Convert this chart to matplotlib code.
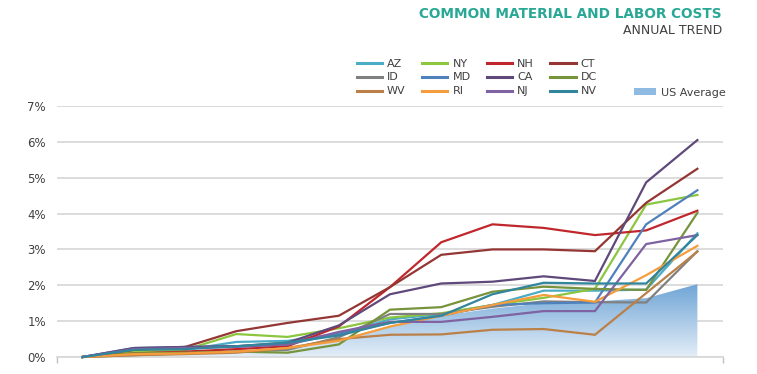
import numpy as np
import matplotlib
matplotlib.use('Agg')
import matplotlib.pyplot as plt
from matplotlib.lines import Line2D
from matplotlib.patches import Patch

# periods (unlabelled on the chart)
periods = list(range(13))

AZ = [0.0, 0.15, 0.2, 0.42, 0.45, 0.65, 1.05, 1.2, 1.45, 1.85, 1.85, 1.88, 3.45]
NY = [0.0, 0.15, 0.2, 0.64, 0.56, 0.8, 1.1, 1.22, 1.45, 1.65, 1.9, 4.25, 4.52]
NH = [0.0, 0.1, 0.15, 0.22, 0.3, 0.85, 1.95, 3.2, 3.7, 3.6, 3.4, 3.53, 4.08]
CT = [0.0, 0.2, 0.28, 0.72, 0.95, 1.15, 1.95, 2.85, 3.0, 3.0, 2.95, 4.3, 5.25]
ID = [0.0, 0.05, 0.1, 0.15, 0.2, 0.55, 1.2, 1.2, 1.4, 1.55, 1.53, 1.52, 2.95]
MD = [0.0, 0.25, 0.28, 0.3, 0.35, 0.65, 0.95, 1.15, 1.45, 1.5, 1.52, 3.7, 4.65]
CA = [0.0, 0.25, 0.28, 0.3, 0.4, 0.88, 1.75, 2.05, 2.1, 2.25, 2.12, 4.87, 6.05]
DC = [0.0, 0.1, 0.12, 0.15, 0.12, 0.35, 1.32, 1.39, 1.82, 1.96, 1.9, 1.87, 4.02]
WV = [0.0, 0.05, 0.08, 0.12, 0.25, 0.5, 0.62, 0.63, 0.76, 0.78, 0.62, 1.78, 2.94]
RI = [0.0, 0.08, 0.1, 0.15, 0.25, 0.45, 0.85, 1.15, 1.45, 1.73, 1.54, 2.28, 3.1]
NJ = [0.0, 0.22, 0.25, 0.28, 0.35, 0.7, 0.98, 0.98, 1.12, 1.28, 1.28, 3.15, 3.4]
NV = [0.0, 0.2, 0.22, 0.3, 0.4, 0.6, 0.95, 1.15, 1.75, 2.07, 2.05, 2.05, 3.4]
US_avg = [0.0, 0.08, 0.12, 0.2, 0.25, 0.5, 0.85, 1.15, 1.35, 1.5, 1.55, 1.64, 2.03]

states = ['AZ', 'NY', 'NH', 'CT', 'ID', 'MD', 'CA', 'DC', 'WV', 'RI', 'NJ', 'NV']
series = [AZ, NY, NH, CT, ID, MD, CA, DC, WV, RI, NJ, NV]
colors = ['#4bacc6', '#8cc63e', '#c0272d', '#943634', '#808080', '#4f81bd',
          '#5f497a', '#77933c', '#bb8048', '#f59d3d', '#7f62a1', '#31859c']

fig = plt.figure(figsize=(7.57, 3.74), dpi=100)
ax = fig.add_axes([57/757, 1-357/374, 666/757, 251/374])

x = np.array(periods)
us = np.array(US_avg)

# gradient area for US average
fill = ax.fill_between(x, 0, us, facecolor='none', edgecolor='none')
grad = np.linspace(1, 0, 256).reshape(-1, 1)
cmap = matplotlib.colors.LinearSegmentedColormap.from_list('g', ['#e4eef8', '#6fa5d6'])
img = ax.imshow(grad, cmap=cmap, aspect='auto', extent=[x[0], x[-1], 0, us.max()],
                origin='upper', zorder=1)
img.set_clip_path(fill.get_paths()[0], transform=ax.transData)

for name, vals, c in zip(states, series, colors):
    ax.plot(x, vals, color=c, lw=1.6, zorder=3, clip_on=False, solid_joinstyle='miter')

ax.set_xlim(-0.5, 12.5)
ax.set_ylim(0, 7)
ax.set_yticks(range(8))
ax.set_yticklabels([str(i) + '%' for i in range(8)])
ax.yaxis.grid(True, color='#d9d9d9', lw=1.3)
ax.set_axisbelow(True)
ax.tick_params(axis='y', length=0, pad=8, labelsize=8.5, labelcolor='#404040')
ax.set_xticks([-0.5, 12.5])
ax.set_xticklabels([])
ax.tick_params(axis='x', length=4, color='#bfbfbf', width=1)
for s in ['left', 'right', 'top']:
    ax.spines[s].set_visible(False)
ax.spines['bottom'].set_color('#d9d9d9')
ax.spines['bottom'].set_linewidth(1.3)

# legend laid out row-wise like the original (4 columns + US Average apart)
handles = {n: Line2D([], [], color=c, lw=2.2) for n, c in zip(states, colors)}
order = [['AZ', 'ID', 'WV'], ['NY', 'MD', 'RI'], ['NH', 'CA', 'NJ'], ['CT', 'DC', 'NV']]
hs, ls = [], []
for col in order:
    for n in col:
        hs.append(handles[n])
        ls.append(n)
leg_kw = dict(frameon=False, fontsize=8, labelcolor='#404040', handlelength=2.3,
              handletextpad=0.45, labelspacing=0.35, borderpad=0, handleheight=0.6)
fig.legend(hs, ls, ncol=4, loc='upper left', bbox_to_anchor=(351/757, 1-53/374),
           columnspacing=1.45, **leg_kw)
leg_kw['handlelength'] = 2.0
fig.legend([Patch(facecolor='#8fbbe3', edgecolor='none')], ['US Average'],
           loc='upper left', bbox_to_anchor=(628/757, 1-82/374), **leg_kw)

fig.text(722/757, 1-14/374, 'COMMON MATERIAL AND LABOR COSTS', ha='right', va='center',
         fontsize=9.8, fontweight='bold', color='#2aa896')
fig.text(722/757, 1-30/374, 'ANNUAL TREND', ha='right', va='center',
         fontsize=9, color='#404040')

fig.savefig('out.png', dpi=100)
